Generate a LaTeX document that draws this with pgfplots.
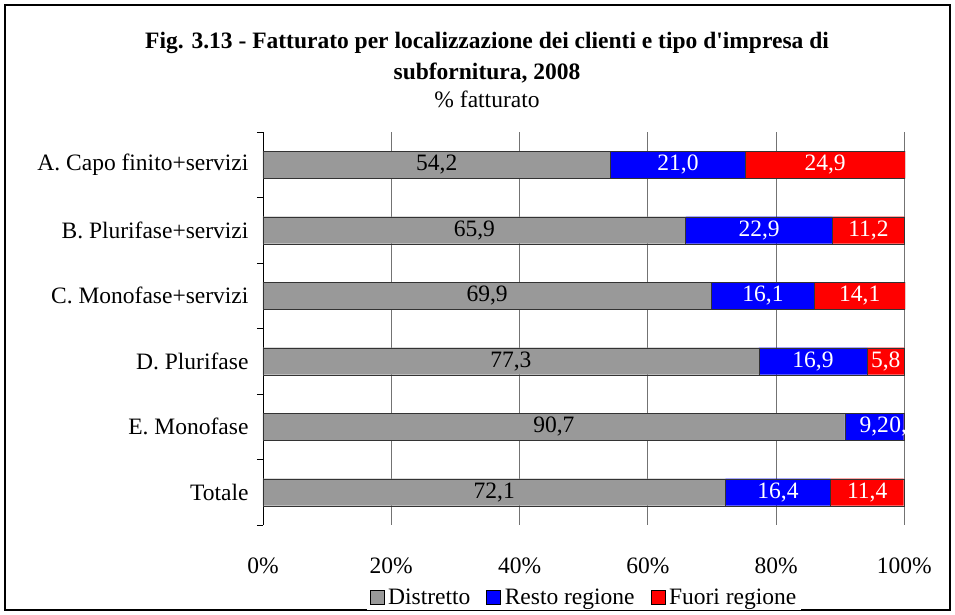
\documentclass[border=0pt]{standalone}
\usepackage{pgfplots}
\pgfplotsset{compat=1.18}
\usepackage{pgfplotstable}
\usepackage{fontspec}
\setmainfont{Liberation Serif}
\newcommand{\fs}{\fontsize{23.5}{28}\selectfont}
\definecolor{cgray}{RGB}{153,153,153}
\pgfplotstableread{
y d r f
0 72.1 16.4 11.4
1 90.7 9.2 0.1
2 77.3 16.9 5.8
3 69.9 16.1 14.1
4 65.9 22.9 11.2
5 54.2 21.0 24.9
}\data
\begin{document}
\begin{tikzpicture}[x=1pt,y=1pt]
\useasboundingbox (-263,-90) rectangle (692,525);
\draw[line width=1.5pt] (-258,-85) rectangle (687,520);
\node[font=\fs\bfseries, anchor=base] at (224,476) {Fig. 3.13 - Fatturato per localizzazione dei clienti e tipo d\textquotesingle impresa di};
\node[font=\fs\bfseries, anchor=base] at (224,445) {subfornitura, 2008};
\node[font=\fs, anchor=base] at (224,417) {\% fatturato};
\begin{axis}[
  at={(0,0)}, anchor=south west,
  scale only axis, width=642pt, height=393pt,
  xbar stacked, bar width=27pt,
  xmin=0, xmax=100.1, ymin=-0.5, ymax=5.5,
  axis lines*=left,
  x axis line style={draw=none},
  y axis line style={black, line width=0.8pt},
  xtick={0,20,...,100},
  xticklabels={0\%,20\%,40\%,60\%,80\%,100\%},
  ytick={0,...,5},
  yticklabels={Totale,E. Monofase,D. Plurifase,C. Monofase+servizi,B. Plurifase+servizi,A. Capo finito+servizi},
  minor ytick={-0.5,0.5,...,5.5},
  major tick length=0pt, minor tick length=6pt,
  tick align=outside,
  tick style={black, line width=0.8pt},
  xmajorgrids, major grid style={black!55, line width=0.8pt},
  tick label style={font=\fs},
  xticklabel style={yshift=-29pt},
  yticklabel style={xshift=-11pt},
  legend style={at={(0.5,-0.185)}, anchor=center, draw=none, font=\fs, legend columns=-1,
    /tikz/every odd column/.append style={column sep=2pt},
    /tikz/every even column/.append style={column sep=14pt}},
  legend image code/.code={\draw[#1, draw=black] (0pt,-6pt) rectangle (14pt,8pt);},
  nodes near coords={\pgfmathprintnumber[fixed, fixed zerofill, precision=1, use comma, assume math mode=true]{\pgfplotspointmeta}},
  every node near coord/.append style={font=\fs, anchor=center},
]
\addplot[fill=cgray, draw=black!80, point meta=\thisrow{d}] table[x=d,y=y]{\data};
\addplot[fill=blue, draw=black!80, point meta=\thisrow{r}, every node near coord/.append style={text=white}] table[x=r,y=y]{\data};
\addplot[fill=red, draw=black!80, point meta=\thisrow{f}, every node near coord/.append style={text=white}] table[x=f,y=y]{\data};
\legend{Distretto, Resto regione, Fuori regione}
\end{axis}
\end{tikzpicture}
\end{document}
